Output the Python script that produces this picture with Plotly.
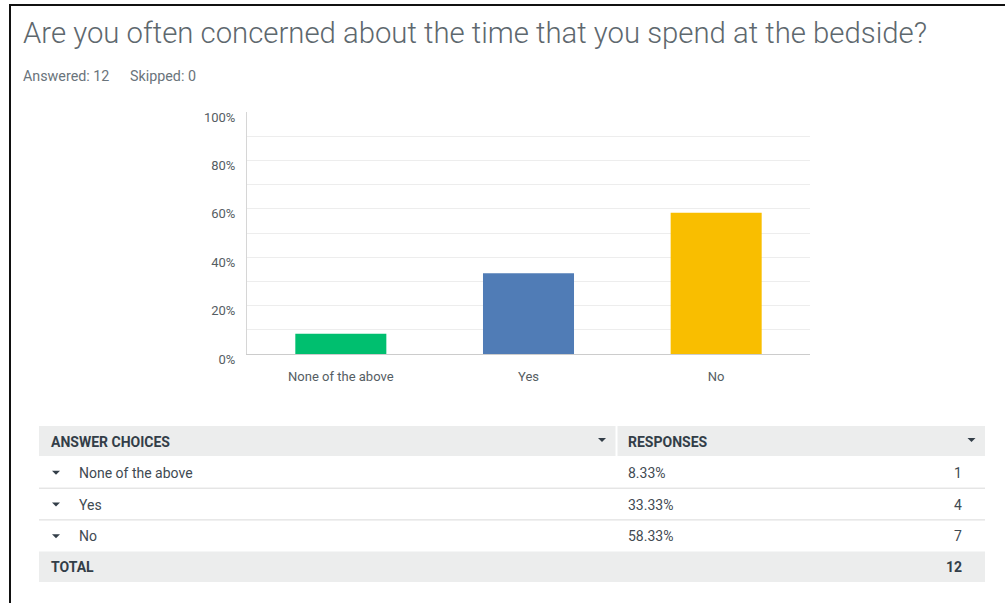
import plotly.graph_objects as go

# Survey question results
question = "Are you often concerned about the time that you spend at the bedside?"
answered = 12
skipped = 0
choices = ["None of the above", "Yes", "No"]
percents = [8.33, 33.33, 58.33]
counts = [1, 4, 7]
bar_colors = ["#00bf6f", "#507cb6", "#f9be00"]
y_ticks = [0, 20, 40, 60, 80, 100]

W, H = 1005, 603


def px(x):
    return x / W


def py(y):
    return 1 - y / H


FONT = "Roboto, 'Open Sans', sans-serif"
GREY = "#6a747b"
DARK = "#3f4a52"

fig = go.Figure()
fig.add_trace(go.Bar(
    x=choices,
    y=percents,
    marker=dict(color=bar_colors, line=dict(width=0)),
    hoverinfo="skip",
))

fig.update_layout(
    template="none",
    width=W,
    height=H,
    autosize=False,
    margin=dict(l=0, r=0, t=0, b=0, pad=0, autoexpand=False),
    paper_bgcolor="white",
    plot_bgcolor="white",
    showlegend=False,
    bargap=0.515,
    font=dict(family=FONT, size=12, color=GREY),
    xaxis=dict(
        domain=[px(247), px(810)],
        automargin=False,
        showline=True,
        linecolor="#cccccc",
        linewidth=1,
        showgrid=False,
        zeroline=False,
        ticks="",
        tickfont=dict(size=13, color="#555d63"),
        ticklabelstandoff=10,
        fixedrange=True,
    ),
    yaxis=dict(
        domain=[py(354), py(112)],
        automargin=False,
        range=[0, 100],
        tickvals=y_ticks,
        ticktext=[f"{v}%" for v in y_ticks],
        showline=True,
        linecolor="#d6d6d6",
        linewidth=1,
        showgrid=True,
        gridcolor="#ededed",
        gridwidth=1,
        zeroline=False,
        ticks="",
        minor=dict(dtick=10, showgrid=True, gridcolor="#ededed", gridwidth=1, ticks=""),
        tickfont=dict(size=13, color="#555d63"),
        ticklabelstandoff=8,
        ticklabelshift=5,
        fixedrange=True,
    ),
)

shapes = []
annotations = []

# Frame edges (top and left only)
shapes.append(dict(type="line", xref="paper", yref="paper",
                   x0=px(9), x1=px(1005), y0=py(5), y1=py(5),
                   line=dict(color="#111111", width=2)))
shapes.append(dict(type="line", xref="paper", yref="paper",
                   x0=px(10), x1=px(10), y0=py(4), y1=0,
                   line=dict(color="#111111", width=2)))

# Heading texts
annotations.append(dict(
    text=question, x=px(21), y=py(33), xref="paper", yref="paper",
    xanchor="left", yanchor="middle", showarrow=False,
    font=dict(family=FONT, size=29.3, color="#5e686e", weight=300),
))
sub_font = dict(family=FONT, size=14.3, color=GREY)
annotations.append(dict(
    text=f"Answered: {answered}", x=px(21), y=py(75.5), xref="paper", yref="paper",
    xanchor="left", yanchor="middle", showarrow=False, font=sub_font,
))
annotations.append(dict(
    text=f"Skipped: {skipped}", x=px(128), y=py(75.5), xref="paper", yref="paper",
    xanchor="left", yanchor="middle", showarrow=False, font=sub_font,
))

# Summary table
TL, TR = 39, 985
COL2 = 626
COUNT_X = 964
HEAD_BG = "#eceded"


def tri(cx, cy, w=8, h=4):
    path = (f"M {px(cx - w / 2)},{py(cy - h / 2)} "
            f"L {px(cx + w / 2)},{py(cy - h / 2)} "
            f"L {px(cx)},{py(cy + h / 2)} Z")
    return dict(type="path", xref="paper", yref="paper", path=path,
                fillcolor="#333e48", line=dict(width=0))


shapes.append(dict(type="rect", xref="paper", yref="paper",
                   x0=px(TL), x1=px(TR), y0=py(426), y1=py(456),
                   fillcolor=HEAD_BG, line=dict(width=0), layer="below"))
shapes.append(dict(type="line", xref="paper", yref="paper",
                   x0=px(616.5), x1=px(616.5), y0=py(426), y1=py(456),
                   line=dict(color="white", width=2)))
shapes.append(tri(602, 440))
shapes.append(tri(971.5, 440))

head_font = dict(family=FONT, size=14, color="#333e48", weight=700)
annotations.append(dict(text="ANSWER CHOICES", x=px(49), y=py(441.5),
                        xref="paper", yref="paper", xanchor="left",
                        yanchor="middle", showarrow=False, font=head_font))
annotations.append(dict(text="RESPONSES", x=px(COL2), y=py(441.5),
                        xref="paper", yref="paper", xanchor="left",
                        yanchor="middle", showarrow=False, font=head_font))

row_font = dict(family=FONT, size=14, color=DARK)
row_top = 457
row_h = 31.7
for i, (c, p, n) in enumerate(zip(choices, percents, counts)):
    cy = row_top + row_h * i + row_h / 2
    shapes.append(tri(56, cy))
    annotations.append(dict(text=c, x=px(77), y=py(cy), xref="paper", yref="paper",
                            xanchor="left", yanchor="middle", showarrow=False,
                            font=row_font))
    annotations.append(dict(text=f"{p:.2f}%", x=px(COL2), y=py(cy), xref="paper",
                            yref="paper", xanchor="left", yanchor="middle",
                            showarrow=False, font=row_font))
    annotations.append(dict(text=str(n), x=px(COUNT_X), y=py(cy), xref="paper",
                            yref="paper", xanchor="right", yanchor="middle",
                            showarrow=False, font=row_font))
    if i < len(choices) - 1:
        ly = row_top + row_h * (i + 1) - 0.5
        shapes.append(dict(type="line", xref="paper", yref="paper",
                           x0=px(TL), x1=px(TR), y0=py(ly), y1=py(ly),
                           line=dict(color="#d9d9d9", width=1)))

total_top = row_top + row_h * len(choices) - 0.5
shapes.append(dict(type="rect", xref="paper", yref="paper",
                   x0=px(TL), x1=px(TR), y0=py(total_top), y1=py(total_top + 30.5),
                   fillcolor=HEAD_BG, line=dict(width=0), layer="below"))
tcy = total_top + 15.5
annotations.append(dict(text="TOTAL", x=px(49), y=py(tcy), xref="paper", yref="paper",
                        xanchor="left", yanchor="middle", showarrow=False,
                        font=head_font))
annotations.append(dict(text=str(sum(counts)), x=px(COUNT_X), y=py(tcy), xref="paper",
                        yref="paper", xanchor="right", yanchor="middle",
                        showarrow=False, font=head_font))

fig.update_layout(shapes=shapes, annotations=annotations)

fig.write_html("out.html", config={"displayModeBar": False})
